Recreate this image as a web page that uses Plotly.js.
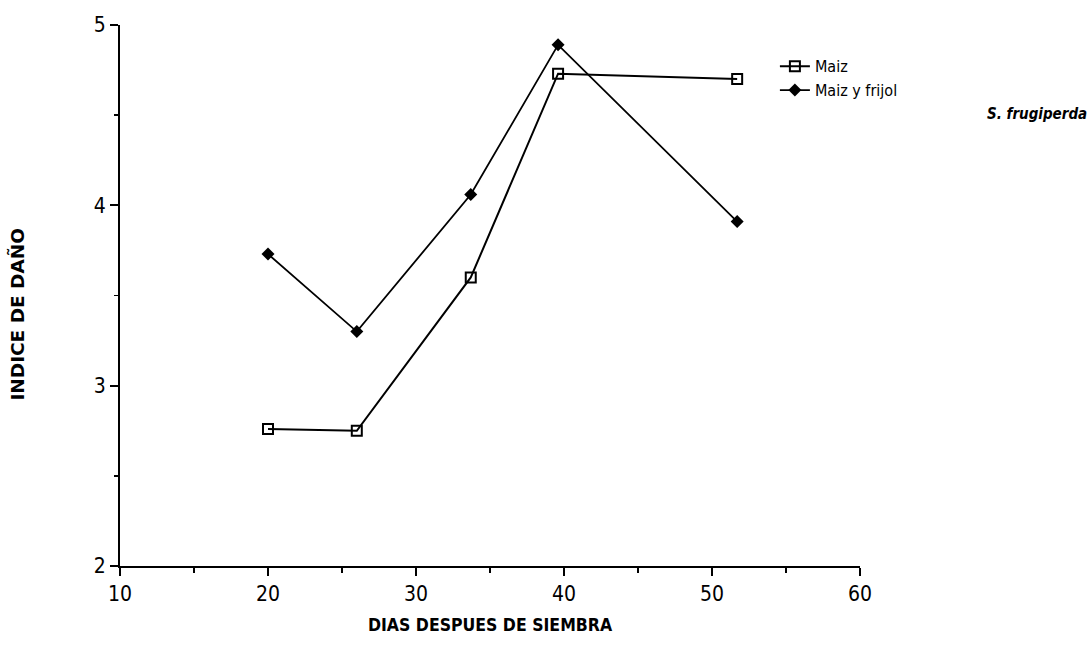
<!DOCTYPE html>
<html>
<head>
<meta charset="utf-8">
<script src="https://cdn.plot.ly/plotly-3.0.1.min.js"></script>
<style>html,body{margin:0;padding:0;background:#fff;}#chart{width:1091px;height:659px;}</style>
</head>
<body>
<div id="chart"></div>
<script>
// Days after sowing
const diasMaiz = [20, 26, 33.7, 39.6, 51.7];
const danoMaiz = [2.76, 2.75, 3.60, 4.73, 4.70];
const diasFrijol = [20, 26, 33.7, 39.6, 51.7];
const danoFrijol = [3.73, 3.30, 4.06, 4.89, 3.91];
const seriesNames = ["Maiz", "Maiz y frijol"];
const xTicks = [10, 20, 30, 40, 50, 60];
const yTicks = [2, 3, 4, 5];

const narrow = "DejaVu Sans Condensed, DejaVu Sans, sans-serif";
const tickFont = {family: narrow, size: 21, color: "#000"};

const traces = [
  {
    x: diasMaiz, y: danoMaiz, name: seriesNames[0], type: "scatter", mode: "lines+markers",
    line: {color: "#000", width: 2},
    marker: {symbol: "square-open", size: 10, color: "#000", line: {width: 2, color: "#000"}}
  },
  {
    x: diasFrijol, y: danoFrijol, name: seriesNames[1], type: "scatter", mode: "lines+markers",
    line: {color: "#000", width: 1.8},
    marker: {symbol: "diamond", size: 10, color: "#000"}
  }
];

const layout = {
  width: 1091, height: 659,
  paper_bgcolor: "#fff", plot_bgcolor: "#fff",
  margin: {l: 120, r: 231, t: 25, b: 93},
  showlegend: true,
  legend: {
    x: 0.885, y: 0.955, xanchor: "left", yanchor: "top",
    font: {family: narrow, size: 16, color: "#000"},
    bgcolor: "rgba(0,0,0,0)", tracegroupgap: 0, itemwidth: 30
  },
  xaxis: {
    range: [10, 60], tickvals: xTicks, ticktext: xTicks.map(String),
    showgrid: false, zeroline: false, showline: true, linecolor: "#000", linewidth: 2,
    ticks: "outside", ticklen: 8, tickwidth: 2, tickcolor: "#000",
    minor: {dtick: 5, ticks: "outside", ticklen: 5, tickwidth: 1.5, tickcolor: "#000", showgrid: false},
    tickfont: tickFont,
    title: {text: "DIAS DESPUES DE SIEMBRA", font: {family: narrow, size: 17.5, color: "#000", weight: "bold"}, standoff: 14}
  },
  yaxis: {
    range: [2, 5], tickvals: yTicks, ticktext: yTicks.map(String),
    showgrid: false, zeroline: false, showline: true, linecolor: "#000", linewidth: 2,
    ticks: "outside", ticklen: 8, tickwidth: 2, tickcolor: "#000",
    minor: {dtick: 0.5, ticks: "outside", ticklen: 4, tickwidth: 1.5, tickcolor: "#000", showgrid: false},
    tickfont: tickFont
  },
  annotations: [
    {
      text: "<b>INDICE DE DAÑO</b>", xref: "paper", yref: "paper",
      x: -0.139, y: 0.465, xanchor: "center", yanchor: "middle", textangle: -90, showarrow: false,
      font: {family: "DejaVu Sans, sans-serif", size: 18.5, color: "#000"}
    },
    {
      text: "<b><i>S. frugiperda</i></b>", xref: "paper", yref: "paper",
      x: 1.31, y: 0.835, xanchor: "right", yanchor: "middle", showarrow: false,
      font: {family: narrow, size: 15, color: "#000"}
    }
  ]
};

Plotly.newPlot("chart", traces, layout, {displayModeBar: false, staticPlot: true});
</script>
</body>
</html>
